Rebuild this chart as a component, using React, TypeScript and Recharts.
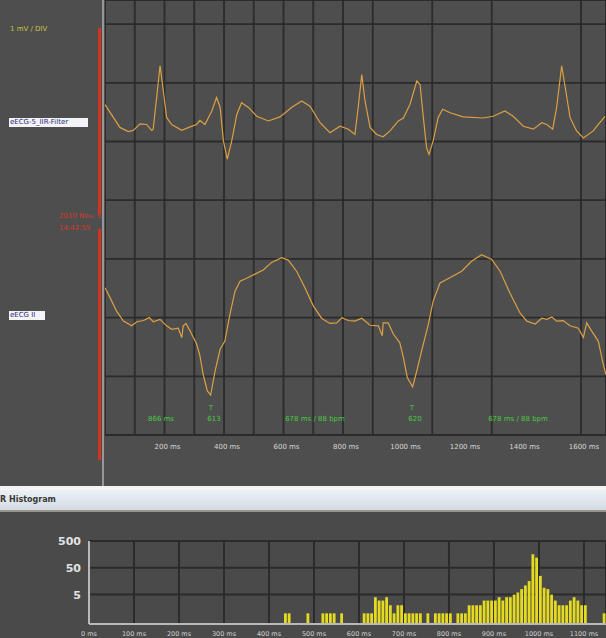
import React from "react";
import { LineChart, Line, XAxis, YAxis, CartesianGrid, BarChart, Bar } from "recharts";

// upper channel (eECG-5_IIR-Filter), mV around its own baseline
const ecgTopMs = [
  0, 28, 50, 78, 95, 118, 140, 157, 162, 176,
  185, 196, 207, 224, 258, 286, 308, 319, 336, 359,
  375, 387, 398, 411, 426, 443, 459, 482, 510, 549,
  588, 627, 661, 689, 723, 756, 790, 818, 840, 851,
  863, 874, 891, 913, 935, 958, 986, 1003, 1025, 1048,
  1059, 1070, 1081, 1089, 1103, 1120, 1135, 1160, 1204, 1271,
  1305, 1344, 1372, 1406, 1440, 1468, 1485, 1505, 1518, 1535,
  1549, 1563, 1585, 1608, 1641, 1658, 1681,
];
const ecgTopMv = [
  0.63, 0.41, 0.24, 0.17, 0.19, 0.3, 0.29, 0.19, 0.21, 0.86,
  1.29, 0.86, 0.41, 0.29, 0.19, 0.25, 0.29, 0.36, 0.29, 0.52,
  0.75, 0.58, 0.01, -0.3, 0.01, 0.46, 0.66, 0.58, 0.43, 0.35,
  0.42, 0.58, 0.69, 0.6, 0.32, 0.15, 0.26, 0.21, 0.12, 0.58,
  1.14, 0.69, 0.24, 0.12, 0.08, 0.18, 0.35, 0.4, 0.63, 1.03,
  0.97, 0.41, -0.11, -0.22, 0.01, 0.41, 0.55, 0.49, 0.42, 0.4,
  0.43, 0.52, 0.43, 0.26, 0.21, 0.32, 0.29, 0.21, 0.58, 1.29,
  0.86, 0.41, 0.18, 0.06, 0.18, 0.29, 0.43,
];

// lower channel (eECG II)
const ecgLowMs = [
  0, 17, 39, 62, 90, 107, 129, 149, 162, 185,
  207, 224, 246, 258, 263, 272, 286, 308, 319, 330,
  344, 355, 370, 387, 403, 420, 437, 454, 476, 504,
  532, 560, 594, 616, 644, 672, 700, 728, 756, 779,
  796, 818, 840, 863, 891, 919, 932, 935, 952, 969,
  991, 1003, 1016, 1034, 1048, 1064, 1087, 1103, 1126, 1148,
  1199, 1232, 1266, 1300, 1328, 1361, 1395, 1418, 1446, 1468,
  1485, 1502, 1518, 1540, 1563, 1591, 1608, 1619, 1636, 1658,
  1675, 1684,
];
const ecgLowMv = [
  0.51, 0.34, 0.11, -0.06, -0.14, -0.07, -0.05, 0.0, -0.07, -0.03,
  -0.14, -0.2, -0.18, -0.34, -0.14, -0.1, -0.23, -0.45, -0.65, -0.97,
  -1.25, -1.32, -0.91, -0.54, -0.4, 0.06, 0.45, 0.62, 0.67, 0.74,
  0.81, 0.94, 1.02, 0.98, 0.79, 0.51, 0.2, -0.01, -0.1, -0.09,
  0.0, -0.05, -0.06, -0.01, -0.13, -0.14, -0.31, -0.09, -0.09, -0.28,
  -0.43, -0.68, -1.02, -1.18, -0.91, -0.57, -0.11, 0.28, 0.59, 0.65,
  0.79, 0.96, 1.07, 0.99, 0.79, 0.42, 0.08, -0.06, -0.11, -0.01,
  -0.03, 0.01, -0.06, -0.05, -0.14, -0.18, -0.34, -0.09, -0.23, -0.4,
  -0.8, -0.97,
];

const ecgTicks = [100, 200, 300, 400, 500, 600, 700, 800, 900, 1000, 1100, 1200, 1300, 1400, 1500, 1600];
const divTicks = [0, 1, 2, 3, 4, 5, 6, 7];
const TOP_BASE = 5; // division where the upper channel sits
const LOW_BASE = 2;

// RR histogram: bin index (8.33 ms bins) and count
const BIN_MS = 1000 / 120;
const histBins = [
  52, 53, 58, 62, 63, 64, 65, 67, 73, 74, 75, 76, 77, 78, 79, 80, 81, 82, 83, 84,
  85, 86, 87, 88, 90, 92, 93, 94, 95, 96,
  98, 99, 100, 101, 102, 103, 104, 105, 106, 107, 108, 109, 110, 111, 112, 113, 114, 115,
  116, 117, 118, 119, 120, 121, 122, 123, 124, 125, 126, 127, 128, 129, 130, 131, 132,
  137,
];
const histCounts = [
  1, 1, 1, 1, 1, 1, 1, 1, 1, 1, 1, 4, 3, 3, 4, 2, 1, 2, 2, 1,
  1, 1, 1, 1, 1, 1, 1, 1, 1, 1,
  1, 1, 1, 2, 2, 2, 2, 3, 3, 3, 3, 4, 3, 4, 4, 5, 6, 8,
  11, 16, 160, 120, 25, 9, 8, 5, 3, 2, 2, 2, 3, 4, 3, 2, 2,
  1,
];
const histTicks = [0, 100, 200, 300, 400, 500, 600, 700, 800, 900, 1000, 1100];
const histYTicks = [5, 50, 500];

const topData = ecgTopMs.map((t, i) => ({ t, v: ecgTopMv[i] + TOP_BASE }));
const lowData = ecgLowMs.map((t, i) => ({ t, v: ecgLowMv[i] + LOW_BASE }));
const histData = histBins.map((b, i) => ({ ms: (b + 0.5) * BIN_MS, n: histCounts[i] }));

const font = '"DejaVu Sans", sans-serif';
const small: React.CSSProperties = { position: "absolute", fontSize: 7, fontFamily: font, whiteSpace: "nowrap", lineHeight: "8px" };
const green: React.CSSProperties = { ...small, color: "#46cc3e", transform: "translateX(-50%)" };

export default function App() {
  return (
    <div style={{ position: "absolute", left: 0, top: 0, width: 606, height: 638, overflow: "hidden", background: "#4a4a4a", fontFamily: font }}>
      {/* ECG panel */}
      <div style={{ position: "absolute", left: 0, top: 0, width: 606, height: 486, background: "#4e4e4e" }} />
      <div style={{ position: "absolute", left: 102, top: 0, width: 2, height: 486, background: "#979797" }} />
      <div style={{ position: "absolute", left: 98, top: 28, width: 2.5, height: 186, background: "#d8321e" }} />
      <div style={{ position: "absolute", left: 98, top: 229, width: 2.5, height: 231, background: "#d8321e" }} />
      <div style={{ ...small, left: 10, top: 25, color: "#cbc33c" }}>1 mV / DIV</div>
      <div style={{ ...small, left: 9, top: 118, width: 78, height: 9, background: "#f3f3f8", color: "#2b2b78", paddingLeft: 1 }}>eECG-5_IIR-Filter</div>
      <div style={{ ...small, left: 9, top: 311, width: 35, height: 9, background: "#f3f3f8", color: "#2b2b78", paddingLeft: 1 }}>eECG II</div>
      <div style={{ ...small, left: 59, top: 212, color: "#d83a26" }}>2010 Nov. 5</div>
      <div style={{ ...small, left: 59, top: 224, color: "#d83a26" }}>14:42:55</div>

      <div style={{ position: "absolute", left: 105, top: 0 }}>
        <LineChart width={501} height={486} margin={{ top: 0, right: 0, left: 0, bottom: 0 }}>
          <CartesianGrid stroke="#2b2b2b" strokeWidth={1.8} />
          <XAxis
            dataKey="t"
            type="number"
            domain={[0, 1684]}
            allowDataOverflow
            ticks={ecgTicks}
            height={51}
            tickLine={false}
            axisLine={{ stroke: "#2b2b2b", strokeWidth: 2 }}
            tickMargin={3}
            tickFormatter={(v: number) => (v % 200 === 0 ? `${v} ms` : "")}
            tick={{ fill: "#d6d6d6", fontSize: 7, fontFamily: font, dx: 3 }}
          />
          <YAxis
            type="number"
            domain={[0, 435 / 58.7]}
            ticks={divTicks}
            width={0}
            tickFormatter={() => ""}
            axisLine={false}
            tickLine={false}
            allowDataOverflow
          />
          <Line data={topData} dataKey="v" type="linear" stroke="#dba043" strokeWidth={1.2} dot={false} isAnimationActive={false} />
          <Line data={lowData} dataKey="v" type="linear" stroke="#dba043" strokeWidth={1.2} dot={false} isAnimationActive={false} />
        </LineChart>
      </div>

      <div style={{ ...green, left: 161, top: 415 }}>866 ms</div>
      <div style={{ ...green, left: 211, top: 404 }}>T</div>
      <div style={{ ...green, left: 214, top: 415 }}>613</div>
      <div style={{ ...green, left: 315, top: 415 }}>678 ms / 88 bpm</div>
      <div style={{ ...green, left: 412, top: 404 }}>T</div>
      <div style={{ ...green, left: 415, top: 415 }}>620</div>
      <div style={{ ...green, left: 518, top: 415 }}>678 ms / 88 bpm</div>

      {/* histogram header */}
      <div style={{ position: "absolute", left: 0, top: 486, width: 606, height: 4, background: "#f4f4f4" }} />
      <div style={{ position: "absolute", left: 0, top: 490, width: 606, height: 20, background: "linear-gradient(#edf1f5, #d3dbe3)" }} />
      <div style={{ position: "absolute", left: 0, top: 495, fontSize: 8, fontWeight: 600, color: "#3a3a3a", fontFamily: font }}>R Histogram</div>
      <div style={{ position: "absolute", left: 0, top: 510, width: 606, height: 2, background: "#9a968e" }} />

      <div style={{ position: "absolute", left: 0, top: 512 }}>
        <BarChart width={606} height={126} data={histData} margin={{ top: 29, right: 0, left: 0, bottom: 0 }}>
          <CartesianGrid stroke="#2b2b2b" strokeWidth={2} />
          <XAxis
            dataKey="ms"
            type="number"
            domain={[0, 1149]}
            allowDataOverflow
            ticks={histTicks}
            interval={0}
            height={14}
            tickLine={false}
            axisLine={{ stroke: "#b9b9b9", strokeWidth: 2 }}
            tickMargin={1}
            tickFormatter={(v: number) => `${v} ms`}
            tick={{ fill: "#d0d0d0", fontSize: 6.5, fontFamily: font }}
          />
          <YAxis
            type="number"
            scale="log"
            domain={[0.4, 500]}
            allowDataOverflow
            ticks={histYTicks}
            width={89}
            tickLine={false}
            tickSize={0}
            tickMargin={8}
            axisLine={{ stroke: "#b9b9b9", strokeWidth: 2 }}
            tick={{ fill: "#e2e2e2", fontSize: 11, fontWeight: 700, fontFamily: font }}
          />
          <Bar dataKey="n" fill="#e4da1f" barSize={2.8} isAnimationActive={false} />
        </BarChart>
      </div>
    </div>
  );
}
